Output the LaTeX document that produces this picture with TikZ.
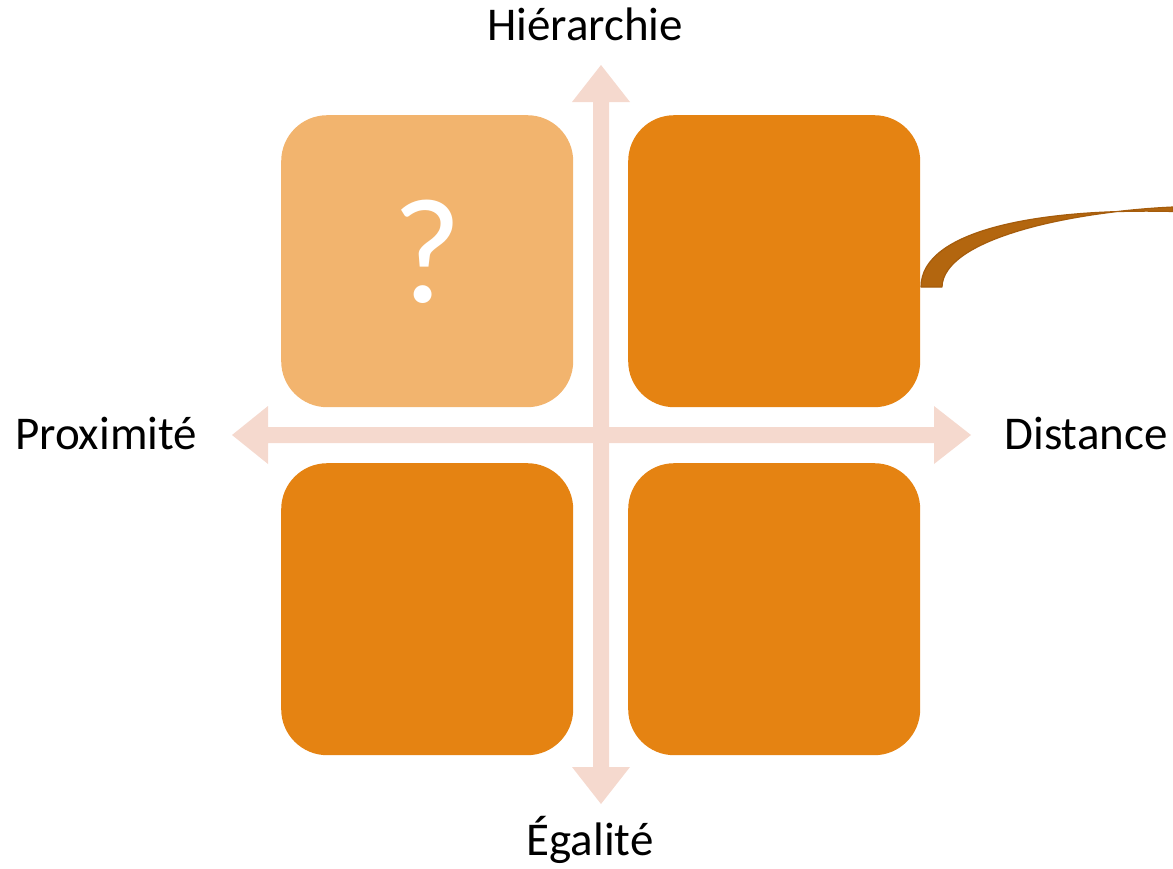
\documentclass[tikz,border=0pt]{standalone}
\usepackage{fontspec}
\setmainfont{Carlito}
\definecolor{boxlight}{HTML}{F2B46E}
\definecolor{boxdark}{HTML}{E58312}
\definecolor{axiscol}{HTML}{F5D9CE}
\definecolor{ribbon}{HTML}{B3660F}
\definecolor{ribbonline}{HTML}{A55C0C}
\tikzset{
  quad/.style={rounded corners=46pt, minimum width=292pt, minimum height=292pt, inner sep=0pt, draw=none, anchor=north west},
  axislabel/.style={font=\fontsize{47}{52}\selectfont, text=black, inner sep=0pt, anchor=base},
}
\begin{document}
\begin{tikzpicture}[x=1pt,y=-1pt]
\useasboundingbox (0,0) rectangle (1173,868);
% axes
\fill[axiscol] (601,65) -- (630,102) -- (609,102) -- (609,767) -- (630,767) -- (601,804)
  -- (572,767) -- (593,767) -- (593,102) -- (572,102) -- cycle;
\fill[axiscol] (232,435) -- (268,406) -- (268,427) -- (934,427) -- (934,406) -- (971,435)
  -- (934,464) -- (934,443) -- (268,443) -- (268,464) -- cycle;
% boxes
\node[quad, fill=boxlight] (tl) at (281,115) {};
\node[quad, fill=boxdark] (tr) at (628,115) {};
\node[quad, fill=boxdark] (bl) at (281,463) {};
\node[quad, fill=boxdark] (br) at (628,463) {};
\node[font=\fontsize{150}{150}\selectfont, text=white, inner sep=0pt] (q) at (427,252) {?};
% connector ribbon
\coordinate (rend) at (1173,209);
\coordinate (rbase) at (921,287);
\fill[ribbon, draw=ribbonline, line width=1.2pt, line join=round]
  (rbase) .. controls (921,230) and (1040,208) .. ([yshift=-2.5pt]rend)
  -- ([yshift=2pt]rend) .. controls (1065,212) and (943,240) .. ([xshift=21pt]rbase) -- cycle;
% labels
\node[axislabel] (top) at (585,40) {Hiérarchie};
\node[axislabel] (left) at (106,449) {Proximité};
\node[axislabel] (right) at (1086,449) {Distance};
\node[axislabel] (bottom) at (590,855) {Égalité};
\end{tikzpicture}
\end{document}
